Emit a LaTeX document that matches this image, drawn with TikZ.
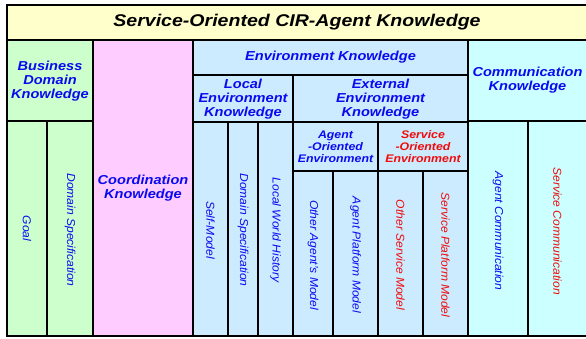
\documentclass[tikz,border=0pt]{standalone}
\usepackage{fontspec}
\setmainfont{Liberation Sans}
\usetikzlibrary{positioning}

\definecolor{titlebg}{HTML}{FFFFCC}
\definecolor{bizbg}{HTML}{CCFFCC}
\definecolor{coordbg}{HTML}{FFCCFF}
\definecolor{envbg}{HTML}{CCEBFF}
\definecolor{commbg}{HTML}{CCFFFF}
\definecolor{kblue}{HTML}{0A0AF0}
\definecolor{kred}{HTML}{F00A0A}

\begin{document}
\begin{tikzpicture}[x=1pt, y=-1pt,
  box/.style={draw=black, line width=1.7pt},
  head/.style={text=kblue, align=center, xscale=1.12,
    font=\fontsize{13}{14.2}\selectfont\bfseries\itshape},
  subhead/.style={text=kblue, align=center, xscale=1.12,
    font=\fontsize{11}{12.2}\selectfont\bfseries\itshape},
  vlabel/.style={text=kblue, rotate=-90, xscale=1.05,
    font=\fontsize{11.5}{12}\selectfont\itshape},
  svc/.style={text=kred}]

  \useasboundingbox (0,0) rectangle (586,338);

  % cells: left/top/right/bottom/fill
  \foreach \xa/\ya/\xb/\yb/\col in {
      7/5/588/40/titlebg,
      7/40/93/121/bizbg, 7/121/47/336/bizbg, 47/121/93/336/bizbg,
      93/40/193/336/coordbg,
      193/40/468/75/envbg, 193/75/293/122/envbg, 293/75/468/122/envbg,
      193/122/228/336/envbg, 228/122/258/336/envbg, 258/122/293/336/envbg,
      293/122/378/171/envbg, 378/122/468/171/envbg,
      293/171/333/336/envbg, 333/171/378/336/envbg,
      378/171/423/336/envbg, 423/171/468/336/envbg,
      468/40/588/121/commbg, 468/121/528/336/commbg, 528/121/588/336/commbg} {
    \draw[box, fill=\col] (\xa,\ya) rectangle (\xb,\yb);
  }

  % title
  \node[xscale=1.15, font=\fontsize{17}{19}\selectfont\bfseries\itshape] (title) at (297,22.5)
    {Service-Oriented CIR-Agent Knowledge};

  % business domain
  \node[head] (business) at (50,81) {Business\\Domain\\Knowledge};
  \node[vlabel] (goal) at (27,228.5) {Goal};
  \node[vlabel] (bizspec) at (70,230) {Domain Specification};

  % coordination
  \node[head] (coord) at (143,188) {Coordination\\Knowledge};

  % environment
  \node[head] (env) at (330.5,57.5) {Environment Knowledge};
  \node[head] (local) at (243,99) {Local\\Environment\\Knowledge};
  \node[head] (external) at (380.5,99) {External\\Environment\\Knowledge};
  \node[vlabel] (selfmodel) at (210.5,230) {Self-Model};
  \node[vlabel] (envspec) at (243,230) {Domain Specification};
  \node[vlabel] (history) at (275.5,230) {Local World History};
  \node[subhead] (agentenv) at (335.5,146.5) {Agent\\-Oriented\\Environment};
  \node[subhead, svc] (serviceenv) at (423,146.5) {Service\\-Oriented\\Environment};
  \node[vlabel] (otheragent) at (313,255) {Other Agent's Model};
  \node[vlabel] (agentplat) at (355.5,255) {Agent Platform Model};
  \node[vlabel, svc] (otherservice) at (400.5,255) {Other Service Model};
  \node[vlabel, svc] (serviceplat) at (445.5,255) {Service Platform Model};

  % communication
  \node[head] (comm) at (527.5,80.5) {Communication\\Knowledge};
  \node[vlabel] (agentcomm) at (498,231) {Agent Communication};
  \node[vlabel, svc] (servicecomm) at (557.5,231) {Service Communication};
\end{tikzpicture}
\end{document}
